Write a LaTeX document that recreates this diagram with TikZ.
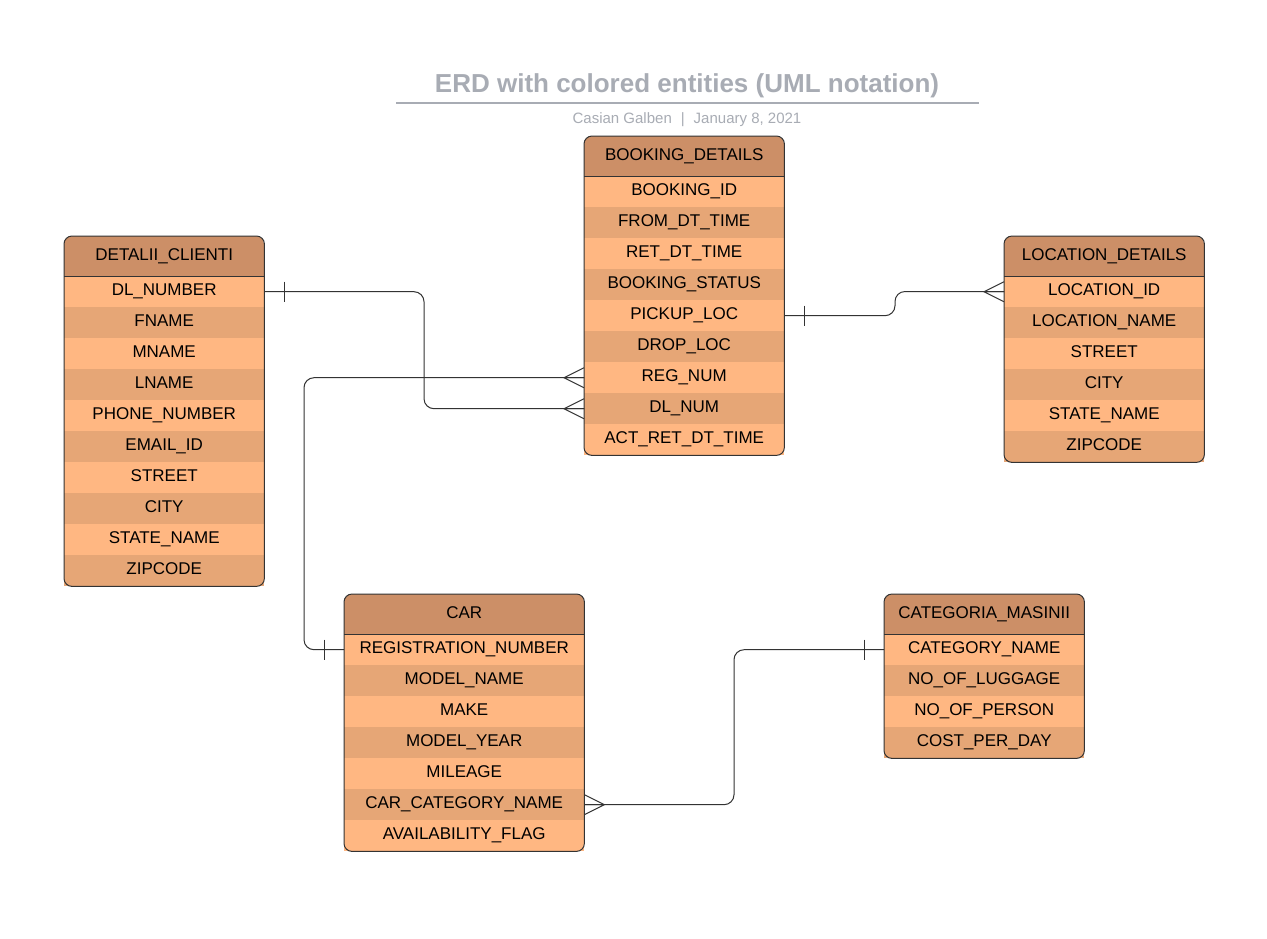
\documentclass[tikz,border=0pt]{standalone}
\usepackage{fontspec}
\setmainfont{Liberation Sans}
\usetikzlibrary{positioning}
\definecolor{headcol}{RGB}{204,143,103}
\definecolor{rowlight}{RGB}{255,183,130}
\definecolor{rowdark}{RGB}{230,166,118}
\definecolor{titlegray}{RGB}{168,172,180}
\definecolor{linecol}{RGB}{51,51,51}

\begin{document}
\begin{tikzpicture}[x=1pt,y=-1pt,
		head/.style={minimum height=40pt,inner sep=0pt,anchor=north west,text height=12pt,text depth=4pt,font=\fontsize{17}{20}\selectfont},
		row/.style={minimum height=31pt,inner sep=0pt,anchor=north west,text height=12pt,text depth=4pt,font=\fontsize{17}{20}\selectfont},
		border/.style={draw=linecol,line width=1pt,rounded corners=8pt},
		conn/.style={draw=linecol,line width=1pt,rounded corners=10pt},
		many/.pic={\draw[linecol,line width=1pt] (0,-10) -- (-20,0) -- (0,10) (-20,0) -- (0,0);},
		one/.pic={\draw[linecol,line width=1pt] (20,-10) -- (20,10);}]
			\useasboundingbox[fill=white] (0,0) rectangle (1267,938);
			
			\node[font=\bfseries\fontsize{26}{30}\selectfont,text=titlegray] (title) at (687,86) {ERD with colored entities (UML notation)};
			\draw[titlegray,line width=2pt] (396,103) -- (979,103);
			\node[font=\fontsize{15}{18}\selectfont,text=titlegray] (sub) at (687,120) {Casian Galben\hspace{9pt}|\hspace{9pt}January 8, 2021};
			
			% BOOKING_DETAILS
			\fill[headcol,rounded corners=8pt] (584,136) rectangle (784,190);
			\node[head,minimum width=200pt] (bd) at (584,136) {BOOKING\_DETAILS};
			\foreach \t [count=\i] in {BOOKING\_ID,FROM\_DT\_TIME,RET\_DT\_TIME,BOOKING\_STATUS,PICKUP\_LOC,DROP\_LOC,REG\_NUM,DL\_NUM,ACT\_RET\_DT\_TIME}{
				\ifodd\i\def\rc{rowlight}\else\def\rc{rowdark}\fi
				\node[row,fill=\rc,minimum width=200pt] (bd-\i) at (584,{176+31*(\i-1)}) {\t};
			}
			\draw[border] (bd.north west) rectangle (bd-9.south east);
			\draw[linecol] (bd.south west) -- (bd.south east);
			
			% DETALII_CLIENTI
			\fill[headcol,rounded corners=8pt] (64,236) rectangle (264,290);
			\node[head,minimum width=200pt] (dc) at (64,236) {DETALII\_CLIENTI};
			\foreach \t [count=\i] in {DL\_NUMBER,FNAME,MNAME,LNAME,PHONE\_NUMBER,EMAIL\_ID,STREET,CITY,STATE\_NAME,ZIPCODE}{
				\ifodd\i\def\rc{rowlight}\else\def\rc{rowdark}\fi
				\node[row,fill=\rc,minimum width=200pt] (dc-\i) at (64,{276+31*(\i-1)}) {\t};
			}
			\draw[border] (dc.north west) rectangle (dc-10.south east);
			\draw[linecol] (dc.south west) -- (dc.south east);
			
			% LOCATION_DETAILS
			\fill[headcol,rounded corners=8pt] (1004,236) rectangle (1204,290);
			\node[head,minimum width=200pt] (loc) at (1004,236) {LOCATION\_DETAILS};
			\foreach \t [count=\i] in {LOCATION\_ID,LOCATION\_NAME,STREET,CITY,STATE\_NAME,ZIPCODE}{
				\ifodd\i\def\rc{rowlight}\else\def\rc{rowdark}\fi
				\node[row,fill=\rc,minimum width=200pt] (loc-\i) at (1004,{276+31*(\i-1)}) {\t};
			}
			\draw[border] (loc.north west) rectangle (loc-6.south east);
			\draw[linecol] (loc.south west) -- (loc.south east);
			
			% CAR
			\fill[headcol,rounded corners=8pt] (344,594) rectangle (584,648);
			\node[head,minimum width=240pt] (car) at (344,594) {CAR};
			\foreach \t [count=\i] in {REGISTRATION\_NUMBER,MODEL\_NAME,MAKE,MODEL\_YEAR,MILEAGE,CAR\_CATEGORY\_NAME,AVAILABILITY\_FLAG}{
				\ifodd\i\def\rc{rowlight}\else\def\rc{rowdark}\fi
				\node[row,fill=\rc,minimum width=240pt] (car-\i) at (344,{634+31*(\i-1)}) {\t};
			}
			\draw[border] (car.north west) rectangle (car-7.south east);
			\draw[linecol] (car.south west) -- (car.south east);
			
			% CATEGORIA_MASINII
			\fill[headcol,rounded corners=8pt] (884,594) rectangle (1084,648);
			\node[head,minimum width=200pt] (cm) at (884,594) {CATEGORIA\_MASINII};
			\foreach \t [count=\i] in {CATEGORY\_NAME,NO\_OF\_LUGGAGE,NO\_OF\_PERSON,COST\_PER\_DAY}{
				\ifodd\i\def\rc{rowlight}\else\def\rc{rowdark}\fi
				\node[row,fill=\rc,minimum width=200pt] (cm-\i) at (884,{634+31*(\i-1)}) {\t};
			}
			\draw[border] (cm.north west) rectangle (cm-4.south east);
			\draw[linecol] (cm.south west) -- (cm.south east);
			
			% relationships
			\draw[conn] (dc-1.east) -| (424,350) |- (bd-8.west);
			\draw (dc-1.east) pic{one};
			\draw (bd-8.west) pic{many};
			
			\draw[conn] (bd-7.west) -| (304,500) |- (car-1.west);
			\draw (bd-7.west) pic{many};
			\draw (car-1.west) pic[xscale=-1]{one};
			
			\draw[conn] (bd-5.east) -| (895,291.5) -- (loc-1.west);
			\draw (bd-5.east) pic{one};
			\draw (loc-1.west) pic{many};
			
			\draw[conn] (car-6.east) -| (734,720) |- (cm-1.west);
			\draw (car-6.east) pic[xscale=-1]{many};
			\draw (cm-1.west) pic[xscale=-1]{one};
		\end{tikzpicture}
\end{document}
